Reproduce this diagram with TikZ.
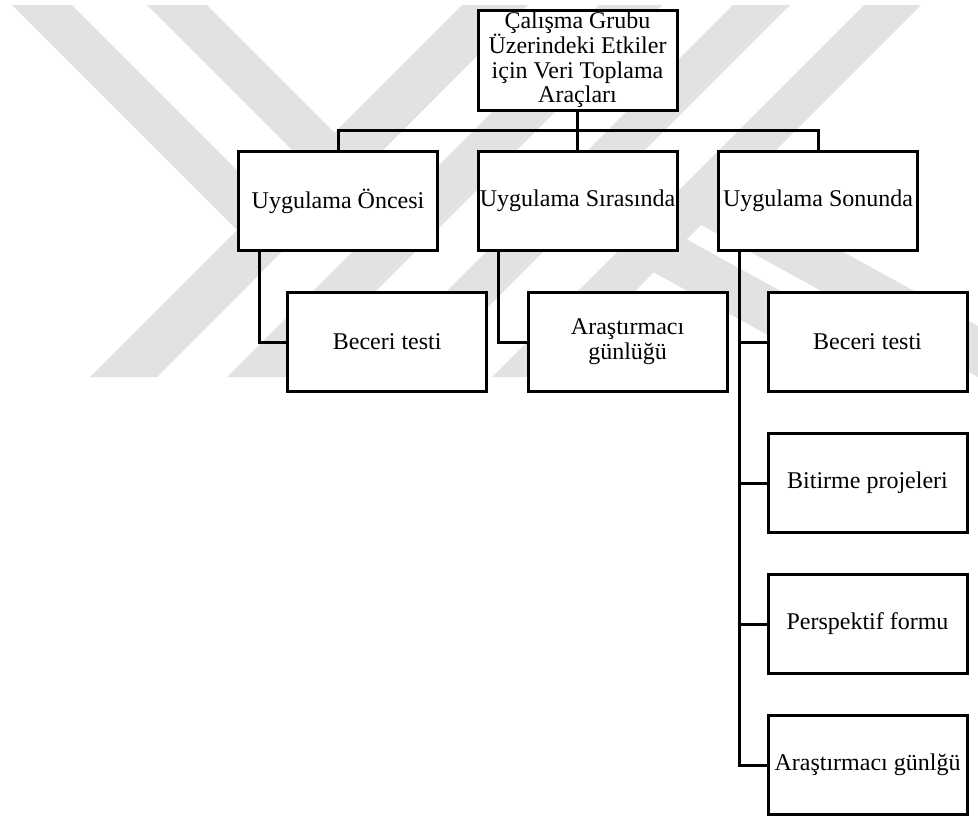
\documentclass[tikz,border=0pt]{standalone}
\usepackage{fontspec}
\setmainfont{Liberation Serif}
\definecolor{wmgray}{RGB}{226,226,226}
\begin{document}
\begin{tikzpicture}[x=1pt,y=-1pt,
  box/.style={draw=black, line width=3pt, fill=white,
    minimum width=199pt, minimum height=99pt, inner sep=0pt, outer sep=0pt,
    align=center, font=\fontsize{24}{24.7}\selectfont},
  link/.style={draw=black, line width=3pt},
  wmband/.style={fill=wmgray}]

\useasboundingbox (0,0) rectangle (978,817);

% background stripes
\begin{scope}
  \clip (0,0) rectangle (978,817);
  % left pair
  \fill[wmband] (462,5) -- (528,5) -- (157,377) -- (90,377) -- cycle;
  \fill[wmband] (12,5) -- (72,5) -- (283,216) -- (253,246) -- cycle;
  \fill[wmband] (599,5) -- (662,5) -- (290,377) -- (227,377) -- cycle;
  \fill[wmband] (147,5) -- (207,5) -- (419,217) -- (389,247) -- cycle;
  % right pair
  \fill[wmband] (733,5) -- (790,5) -- (418,377) -- (361,377) -- cycle;
  \fill[wmband] (553,217) -- (586,184) -- (937,377) -- (844,377) -- cycle;
  \fill[wmband] (864,5) -- (921,5) -- (549,377) -- (492,377) -- cycle;
  \fill[wmband] (683,215) -- (716,182) -- (978,326) -- (978,377) -- cycle;
\end{scope}

% boxes
\node[box, minimum height=100pt] (root) at (577.5,60)
  {Çalışma Grubu\\Üzerindeki Etkiler\\için Veri Toplama\\Araçları};

\node[box] (pre)  at (338,201)   {Uygulama Öncesi};
\node[box] (dur)  at (577.5,201) {Uygulama Sırasında};
\node[box] (post) at (818,201)   {Uygulama Sonunda};

\node[box] (preA)  at (387.2,342) {Beceri testi};
\node[box] (durA)  at (627.6,342) {Araştırmacı\\günlüğü};
\node[box] (postA) at (867.5,342) {Beceri testi};
\node[box] (postB) at (867.5,483) {Bitirme projeleri};
\node[box] (postC) at (867.5,624) {Perspektif formu};
\node[box] (postD) at (867.5,765) {Araştırmacı günlğü};

% connectors
\draw[link] (root.south) -- ++(0,20.7) coordinate (bus);
\draw[link] (pre.north) |- (bus) -| (post.north);
\draw[link] (bus) -- (dur.north);

\draw[link] ([xshift=20.5pt]pre.south west) |- (preA.west);
\draw[link] ([xshift=20.5pt]dur.south west) |- (durA.west);
\draw[link] ([xshift=20.5pt]post.south west) |- (postD.west);
\draw[link] ([xshift=20.5pt]post.south west |- postA.west) -- (postA.west);
\draw[link] ([xshift=20.5pt]post.south west |- postB.west) -- (postB.west);
\draw[link] ([xshift=20.5pt]post.south west |- postC.west) -- (postC.west);
\end{tikzpicture}
\end{document}
